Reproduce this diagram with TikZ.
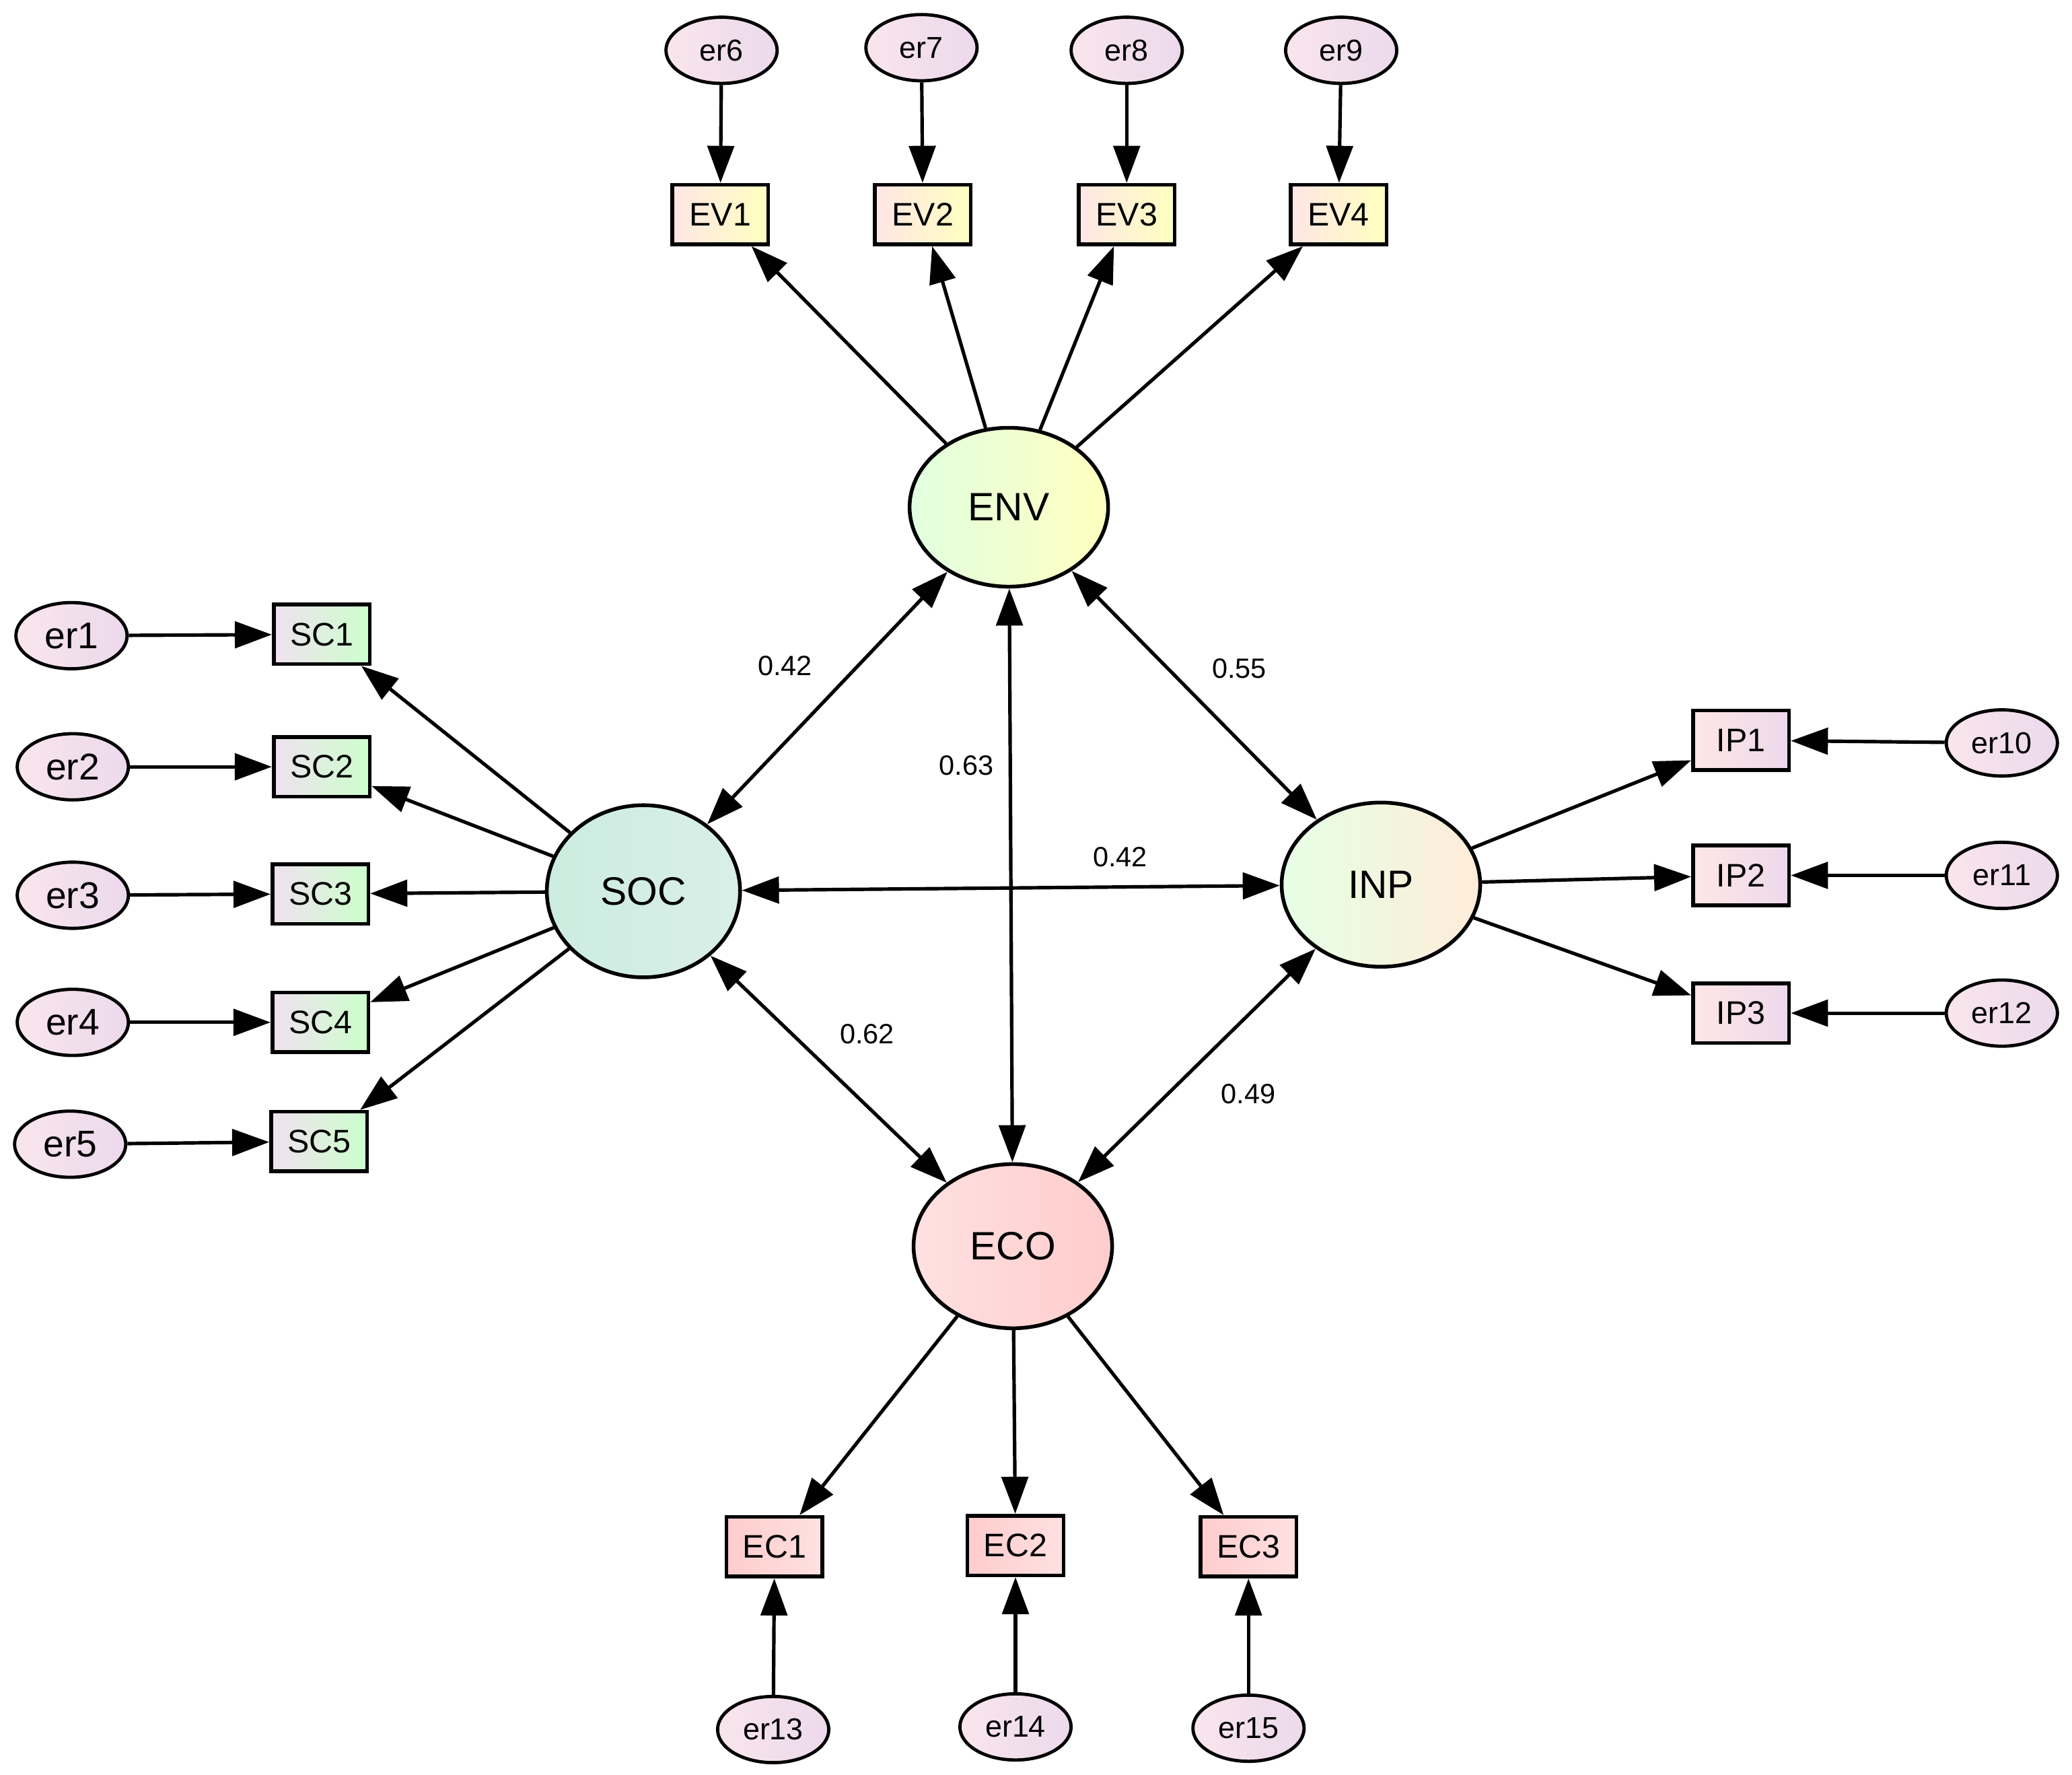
\documentclass[tikz,border=0pt]{standalone}
\usepackage{fontspec}
\setmainfont{Liberation Sans}
\usetikzlibrary{arrows.meta,shapes.geometric}
\begin{document}
\begin{tikzpicture}[x=0.02cm,y=-0.02cm,
 lat/.style={ellipse,draw,line width=1.6pt,minimum width=3cm,minimum height=2.5cm,inner sep=0pt,font=\fontsize{17}{17}\selectfont},
 err/.style={ellipse,draw,line width=1.4pt,minimum width=1.68cm,minimum height=1cm,inner sep=0pt,left color=purple!10,right color=violet!15,font=\fontsize{13}{13}\selectfont},
 obs/.style={rectangle,draw,line width=1.6pt,minimum width=1.45cm,minimum height=0.9cm,inner sep=0pt,font=\fontsize{14}{14}\selectfont},
 ar/.style={line width=1.5pt,-{Triangle[length=0.56cm,width=0.4cm]}},
 dar/.style={line width=1.5pt,{Triangle[length=0.56cm,width=0.4cm]}-{Triangle[length=0.56cm,width=0.4cm]}},
 lab/.style={font=\fontsize{12}{12}\selectfont}]
\useasboundingbox (0,0) rectangle (1565,1340);
\node[lat,left color=green!12,right color=yellow!25,minimum width=3cm,minimum height=2.4cm] (ENV) at (762,383) {ENV};
\node[lat,left color=green!25!teal!20,right color=green!15!teal!15,minimum width=2.92cm,minimum height=2.6cm] (SOC) at (486,673) {SOC};
\node[lat,left color=green!10,right color=orange!15,minimum height=2.48cm] (INP) at (1043,668) {INP};
\node[lat,left color=red!12,right color=red!20,minimum height=2.48cm] (ECO) at (765,941) {ECO};
% EV
\foreach \n/\x/\ex in {1/544/545,2/697/696,3/851/851,4/1011/1013}{
 \node[obs,left color=red!10,right color=yellow!25] (EV\n) at (\x,162) {EV\n};
}
\node[err] (er6) at (545,38) {er6};
\node[err] (er7) at (696,36) {er7};
\node[err] (er8) at (851,38) {er8};
\node[err] (er9) at (1013,38) {er9};
\draw[ar] (er6)--(EV1); \draw[ar] (er7)--(EV2); \draw[ar] (er8)--(EV3); \draw[ar] (er9)--(EV4);
\foreach \n in {1,...,4}{\draw[ar] (ENV)--(EV\n);}
% SC
\node[obs,left color=violet!12,right color=green!20] (SC1) at (243,479) {SC1};
\node[obs,left color=violet!12,right color=green!20] (SC2) at (243,579) {SC2};
\node[obs,left color=violet!12,right color=green!20] (SC3) at (242,675) {SC3};
\node[obs,left color=violet!12,right color=green!20] (SC4) at (242,772) {SC4};
\node[obs,left color=violet!12,right color=green!20] (SC5) at (241,862) {SC5};
\node[err,font=\fontsize{16}{16}\selectfont] (er1) at (54,480) {er1};
\node[err,font=\fontsize{16}{16}\selectfont] (er2) at (55,579) {er2};
\node[err,font=\fontsize{16}{16}\selectfont] (er3) at (55,676) {er3};
\node[err,font=\fontsize{16}{16}\selectfont] (er4) at (55,772) {er4};
\node[err,font=\fontsize{16}{16}\selectfont] (er5) at (53,864) {er5};
\foreach \n in {1,...,5}{\draw[ar] (er\n)--(SC\n); \draw[ar] (SOC)--(SC\n);}
% IP
\node[obs,left color=red!10,right color=violet!15] (IP1) at (1315,559) {IP1};
\node[obs,left color=red!10,right color=violet!15] (IP2) at (1315,661) {IP2};
\node[obs,left color=red!10,right color=violet!15] (IP3) at (1315,765) {IP3};
\node[err] (er10) at (1512,561) {er10};
\node[err] (er11) at (1512,661) {er11};
\node[err] (er12) at (1512,765) {er12};
\draw[ar] (er10)--(IP1); \draw[ar] (er11)--(IP2); \draw[ar] (er12)--(IP3);
\foreach \n in {1,2,3}{\draw[ar] (INP)--(IP\n);}
% EC
\node[obs,left color=red!20,right color=red!12] (EC1) at (585,1168) {EC1};
\node[obs,left color=red!20,right color=red!12] (EC2) at (767,1167) {EC2};
\node[obs,left color=red!20,right color=red!12] (EC3) at (943,1168) {EC3};
\node[err] (er13) at (584,1306) {er13};
\node[err] (er14) at (767,1304) {er14};
\node[err] (er15) at (943,1305) {er15};
\draw[ar] (er13)--(EC1); \draw[ar] (er14)--(EC2); \draw[ar] (er15)--(EC3);
\foreach \n in {1,2,3}{\draw[ar] (ECO)--(EC\n);}
% correlations
\draw[dar] (ENV)--(SOC);
\draw[dar] (ENV)--(INP);
\draw[dar] (ENV)--(ECO);
\draw[dar] (SOC)--(INP);
\draw[dar] (SOC)--(ECO);
\draw[dar] (INP)--(ECO);
\node[lab] (l1) at (593,503) {0.42};
\node[lab] (l2) at (936,505) {0.55};
\node[lab] (l3) at (730,578) {0.63};
\node[lab] (l4) at (846,647) {0.42};
\node[lab] (l5) at (655,781) {0.62};
\node[lab] (l6) at (943,826) {0.49};
\end{tikzpicture}
\end{document}
